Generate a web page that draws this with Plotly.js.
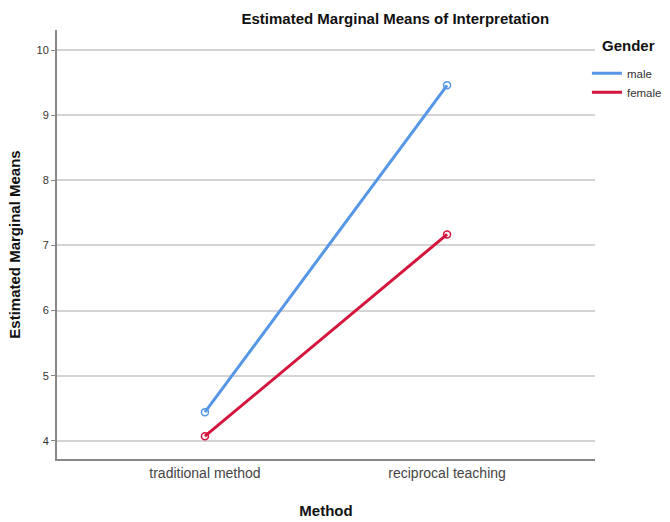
<!DOCTYPE html>
<html><head><meta charset="utf-8">
<script src="https://cdn.plot.ly/plotly-3.0.1.min.js"></script>
<style>html,body{margin:0;padding:0;background:#fff}</style>
</head><body>
<div id="chart" style="width:670px;height:522px"></div>
<script>
var methods = ["traditional method", "reciprocal teaching"];
var maleMeans = [4.44, 9.46];
var femaleMeans = [4.07, 7.17];
var yTicks = [4, 5, 6, 7, 8, 9, 10];
var genders = ["male", "female"];
var legendTitle = "Gender";
var colors = ["#5596e6", "#d4153c"];
var FONT = '"Liberation Sans Narrow", "Arial Narrow", "Liberation Sans", Arial, sans-serif';

var series = [maleMeans, femaleMeans];
var traces = [];
series.forEach(function (vals, i) {
  traces.push({x: methods, y: vals, name: genders[i], mode: "lines+markers", type: "scatter",
    showlegend: false, line: {color: colors[i], width: 3},
    marker: {symbol: "circle-open", size: 7, color: colors[i], line: {width: 1.5}}});
});
series.forEach(function (vals, i) {
  traces.push({x: [null], y: [null], name: genders[i], mode: "lines", type: "scatter",
    showlegend: true, line: {color: colors[i], width: 3}});
});

var layout = {
  width: 670, height: 522,
  margin: {l: 57, r: 75, t: 30, b: 63, autoexpand: false},
  paper_bgcolor: "#fff", plot_bgcolor: "#fff",
  font: {family: FONT, color: "#222"},
  title: {text: "<b>Estimated Marginal Means of Interpretation</b>", font: {size: 15, family: FONT, color: "#111"},
          x: 0.59, xref: "container", xanchor: "center", y: 0.965, yref: "container", yanchor: "middle"},
  xaxis: {type: "category", range: [-0.611, 1.611], showgrid: false, zeroline: false,
          showline: true, linecolor: "#888", linewidth: 2, ticks: "", tickfont: {size: 14, color: "#444"},
          title: {text: "<b>Method</b>", font: {size: 15, color: "#111"}, standoff: 26}},
  yaxis: {range: [3.72, 10.31], tickvals: yTicks, showgrid: true, gridcolor: "#d4d4d4", gridwidth: 1.5,
          zeroline: false, showline: true, linecolor: "#888", linewidth: 2, ticks: "outside", ticklen: 4,
          tickcolor: "#888", tickfont: {size: 11, color: "#333"},
          title: {text: "<b>Estimated Marginal Means</b>", font: {size: 15, color: "#111"}, standoff: 12}},
  showlegend: true,
  legend: {x: 0.985, xanchor: "left", y: 0.933, yanchor: "top", bgcolor: "rgba(0,0,0,0)",
           font: {size: 11.5, color: "#333"}, itemwidth: 30, tracegroupgap: 0},
  annotations: [{text: "<b>" + legendTitle + "</b>", xref: "paper", yref: "paper", x: 1.009, y: 0.965,
                 xanchor: "left", yanchor: "middle", showarrow: false, font: {size: 15, color: "#111"}}]
};

Plotly.newPlot("chart", traces, layout, {displayModeBar: false});
</script>
</body></html>
